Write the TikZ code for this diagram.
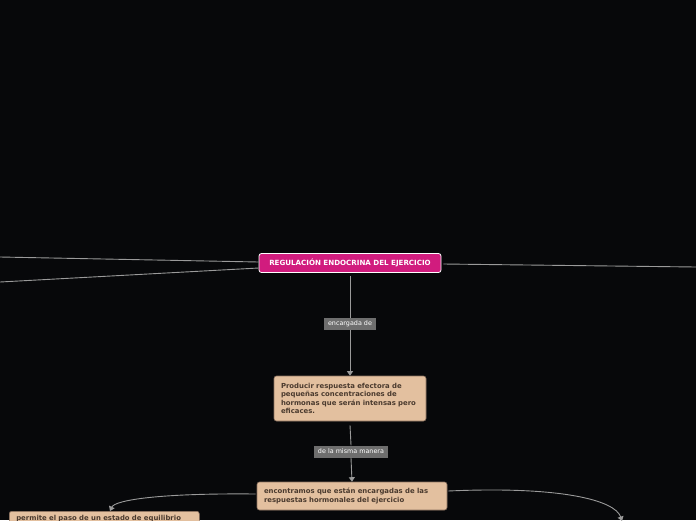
\documentclass[tikz,border=0pt]{standalone}
\usepackage{fontspec}
\setmainfont{DejaVu Sans}
\usetikzlibrary{arrows.meta}
\definecolor{bg}{HTML}{07080A}
\definecolor{linec}{HTML}{9A9A9A}
\definecolor{mag}{HTML}{D11C7E}
\definecolor{tan}{HTML}{E3C09F}
\definecolor{tanb}{HTML}{8C7260}
\definecolor{tantext}{HTML}{4A3A2E}
\definecolor{lab}{HTML}{6E6E6E}
\tikzset{
  mainbox/.style={draw=white, line width=0.8pt, fill=mag, rounded corners=2.5pt, text=white, font=\fontsize{7.1}{8}\selectfont\bfseries, minimum width=182pt, minimum height=19pt, inner sep=0pt},
  tanbox/.style={draw=tanb, line width=0.6pt, fill=tan, rounded corners=2.5pt, text=tantext, font=\fontsize{6.9}{8.4}\selectfont\bfseries, align=left, inner sep=0pt},
  lbl/.style={fill=lab, text=white, font=\fontsize{6.4}{7}\selectfont, inner sep=0pt, minimum height=12pt},
  conn/.style={draw=linec, line width=0.9pt},
  arr/.style={conn, -{Triangle[length=4.5pt,width=6pt]}}
}
\begin{document}
\begin{tikzpicture}[x=1pt,y=-1pt]
\useasboundingbox (0,0) rectangle (696,520);
\fill[bg] (0,0) rectangle (696,520);
\clip (0,0) rectangle (696,520);
% nodes
\node[mainbox] (main) at (350,263) {REGULACIÓN ENDOCRINA DEL EJERCICIO};
\node[lbl, minimum width=52pt] (l1) at (350,324) {encargada de};
\node[tanbox, minimum width=152pt, minimum height=45pt, text width=138pt] (n2) at (350,398.5) {Producir respuesta efectora de\\ pequeñas concentraciones de\\ hormonas que serán intensas pero\\ eficaces.};
\node[lbl, minimum width=74pt] (l2) at (351,451.5) {de la misma manera};
\node[tanbox, minimum width=190pt, minimum height=28pt, text width=176pt] (n3) at (352,496) {encontramos que están encargadas de las\\ respuestas hormonales del ejercicio};
\node[tanbox, minimum width=190pt, text width=176pt, inner ysep=3.5pt, anchor=north west] (n4) at (9,511) {permite el paso de un estado de equilibrio\\ \phantom{x}};
\coordinate (lt) at (0,257);
\coordinate (lb) at (0,282);
\coordinate (rt) at (696,267);
\coordinate (n5) at (622,521);
% connectors
\draw[conn] (main.west |- 0,262) -- (lt);
\draw[conn] (main.west |- 0,268) -- (lb);
\draw[conn] (main.east |- 0,264) ++(2,0) -- (rt);
\draw[conn] (main.south) ++(0,3) -- (l1.north);
\draw[arr] (l1.south) -- (n2.north);
\draw[conn] (n2.south) ++(0,4) -- (l2.north);
\draw[arr] (l2.south) -- (n3.north);
\draw[arr] (n3.west |- 0,494) ++(-1,0) .. controls (160,493) and (115,500) .. (110,511);
\draw[arr] (n3.east |- 0,491) ++(1,0) .. controls (560,486) and (615,500) .. (n5);
\end{tikzpicture}
\end{document}
